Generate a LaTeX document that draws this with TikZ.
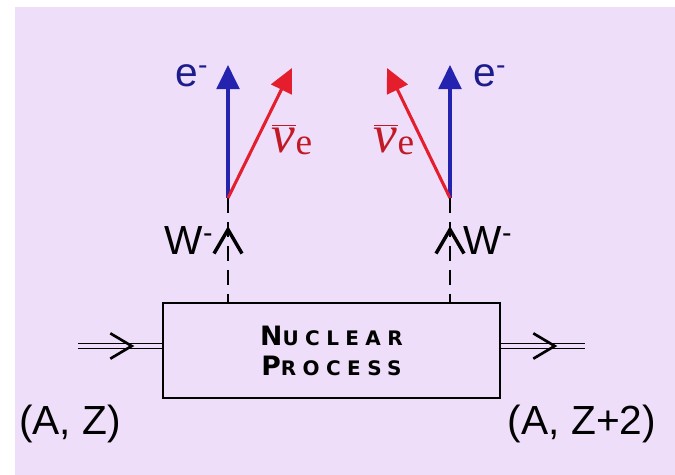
\documentclass[tikz,border=0pt]{standalone}
\usepackage{fontspec}
\setmainfont{Liberation Sans}
\newfontfamily\nuserif{Liberation Serif}
\newfontfamily\procfont[LetterSpace=32]{DejaVu Sans}
\usetikzlibrary{arrows.meta,decorations.markings}

\definecolor{bglilac}{RGB}{238,222,250}
\definecolor{eblue}{RGB}{35,35,175}
\definecolor{nured}{RGB}{228,30,45}

\tikzset{
  lbl/.style={font=\fontsize{30.5}{32}\selectfont, inner sep=0pt},
  elabel/.style={lbl, text=eblue!80!black},
  nulabel/.style={inner sep=0pt, text=nured!85!black},
  electron/.style={eblue, line width=2.3pt, -{Triangle[length=18pt,width=17pt]}},
  neutrino/.style={nured, line width=2.3pt, -{Triangle[length=18pt,width=17pt]}},
  wline/.style={line width=2.2pt, dash pattern=on 11pt off 7pt},
  nucline/.style={double=bglilac, double distance=2.6pt, line width=1pt},
  barb/.style={decorate, decoration={markings,
      mark=at position #1 with {\arrow[line width=2pt]{Straight Barb[length=16pt,width=19pt]}}}},
  wbarb/.style={decorate, decoration={markings,
      mark=at position #1 with {\arrow[line width=2.6pt]{Straight Barb[length=18pt,width=21pt]}}}}
}

\begin{document}
\begin{tikzpicture}[x=0.75pt, y=-0.75pt]

\useasboundingbox (0,0) rectangle (675,475);
\fill[bglilac] (15,7) rectangle (675,475);

% nuclear process box
\node[draw, line width=1.5pt, minimum width=252.75pt, minimum height=71.25pt,
      align=center, font=\procfont\bfseries\fontsize{15}{22.5}\selectfont] (proc) at (331.5,350.5)
  {{\fontsize{20}{22.5}\selectfont N}UCLEAR\\
   {\fontsize{20}{22.5}\selectfont P}ROCESS};

\coordinate (inL) at (78,346);
\coordinate (outR) at (585,346);
\coordinate (jL) at (228,198);
\coordinate (jR) at (450,198);
\coordinate (eLtip) at (228,65);
\coordinate (eRtip) at (450,65);
\coordinate (nuLtip) at (292,68);
\coordinate (nuRtip) at (387,68);

% nucleus in and out
\draw[nucline] (inL) -- (inL -| proc.west);
\path[barb=0.67] (inL) -- (inL -| proc.west);
\draw[nucline] (outR -| proc.east) -- (outR);
\path[barb=0.67] (outR -| proc.east) -- (outR);

% W bosons
\draw[wline] (jL) -- (jL |- proc.north);
\path[wbarb=0.73] (jL |- proc.north) -- (jL);
\draw[wline] (jR) -- (jR |- proc.north);
\path[wbarb=0.73] (jR |- proc.north) -- (jR);

% leptons
\draw[electron] (jL) -- (eLtip);
\draw[neutrino] (jL) -- (nuLtip);
\draw[electron] (jR) -- (eRtip);
\draw[neutrino] (jR) -- (nuRtip);

% labels
\node[elabel] (eL) at (192,76) {e\textsuperscript{-}};
\node[elabel] (eR) at (490,76) {e\textsuperscript{-}};
\node[nulabel] (nuL) at (292,140)
  {\nuserif\fontsize{40}{42}\selectfont$\overline{\mbox{\itshape v}}$\raisebox{-2pt}{\fontsize{28}{30}\selectfont e}};
\node[nulabel] (nuR) at (394,140)
  {\nuserif\fontsize{40}{42}\selectfont$\overline{\mbox{\itshape v}}$\raisebox{-2pt}{\fontsize{28}{30}\selectfont e}};
\node[lbl] (wL) at (189,241) {W\textsuperscript{-}};
\node[lbl] (wR) at (488,241) {W\textsuperscript{-}};
\node[lbl] (az) at (70,424) {(A, Z)};
\node[lbl] (az2) at (582,424) {(A, Z+2)};

\end{tikzpicture}
\end{document}
